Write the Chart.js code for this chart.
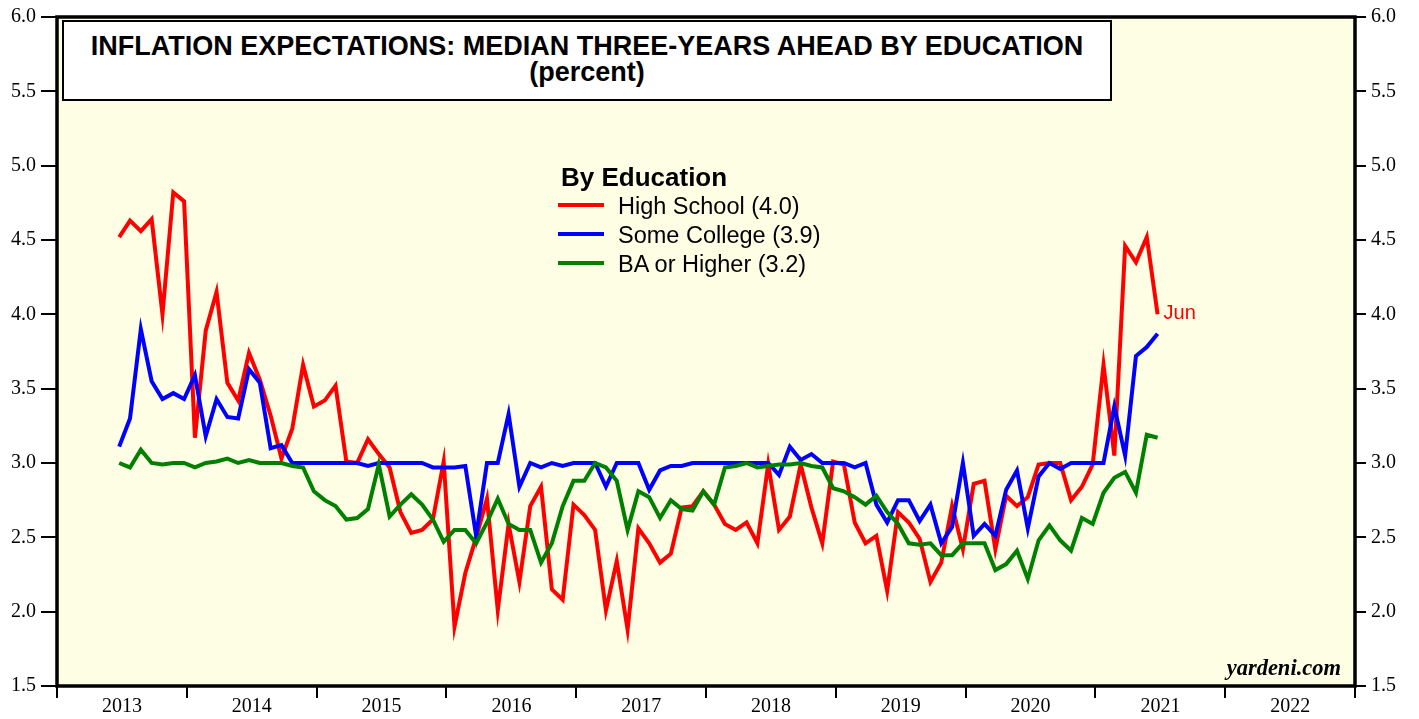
<!DOCTYPE html>
<html>
<head>
<meta charset="utf-8">
<script src="https://cdn.jsdelivr.net/npm/chart.js@4.4.1/dist/chart.umd.min.js"></script>
<style>
  body { margin: 0; background: #fff; }
  #wrap { position: relative; width: 1419px; height: 719px; overflow: hidden; }
  #c { position: absolute; left: 0; top: 0; }
  .ov { position: absolute; white-space: nowrap; }
  #titleBox {
    left: 62px; top: 20px; width: 1046px;
    border: 2px solid #000; background: #fff;
    text-align: center; font: bold 27px "Liberation Sans", Arial, sans-serif;
    line-height: 26px; padding-top: 11px; box-sizing: content-box; height: 66px;
  }
  #legTitle { left: 561px; top: 164px; font: bold 26px "Liberation Sans", Arial, sans-serif; line-height: 26px; }
  .legText { font: 23.5px "Liberation Sans", Arial, sans-serif; line-height: 24px; color: #000; }
  .legLine { height: 4px; width: 46px; }
  #brand { right: 78px; top: 657px; font: italic bold 22.5px "Liberation Serif", "Times New Roman", serif; line-height: 22px; }
  #lastLbl { font: 20px "Liberation Sans", Arial, sans-serif; line-height: 20px; color: #ff0000; }
</style>
</head>
<body>
<div id="wrap">
  <canvas id="c" width="1419" height="719"></canvas>
  <div id="titleBox" class="ov">INFLATION EXPECTATIONS: MEDIAN THREE-YEARS AHEAD BY EDUCATION<br>(percent)</div>
  <div id="legTitle" class="ov">By Education</div>
  <div id="brand" class="ov">yardeni.com</div>
  <div id="lastLbl" class="ov">Jun</div>
</div>
<script>
// Monthly data, Jun 2013 .. Jun 2021
const startYear = 2013;
const startMonth = 6;
const lastLabel = 'Jun';

const seriesLabels = ['High School (4.0)', 'Some College (3.9)', 'BA or Higher (3.2)'];
const seriesColors = ['#ff0000', '#0000ff', '#008000'];

const highSchool = [
  4.52, 4.63, 4.56, 4.64, 4.00, 4.82, 4.76, 3.17, 3.89, 4.15,
  3.54, 3.42, 3.74, 3.56, 3.32, 3.03, 3.23, 3.66, 3.38, 3.42,
  3.52, 3.01, 3.00, 3.16, 3.06, 2.97, 2.67, 2.53, 2.55, 2.62,
  3.01, 1.90, 2.26, 2.50, 2.76, 2.01, 2.59, 2.20, 2.71, 2.84,
  2.15, 2.08, 2.72, 2.65, 2.55, 2.01, 2.34, 1.88, 2.56, 2.46,
  2.33, 2.39, 2.70, 2.71, 2.81, 2.72, 2.59, 2.55, 2.60, 2.46,
  2.99, 2.55, 2.64, 2.99, 2.70, 2.46, 3.01, 2.99, 2.60, 2.46,
  2.51, 2.14, 2.67, 2.60, 2.49, 2.20, 2.33, 2.71, 2.42, 2.86,
  2.88, 2.42, 2.78, 2.71, 2.77, 2.99, 3.00, 3.00, 2.75, 2.84,
  2.99, 3.66, 3.05, 4.46, 4.35, 4.52, 4.00
];

const someCollege = [
  3.11, 3.30, 3.90, 3.55, 3.43, 3.47, 3.43, 3.59, 3.18, 3.43,
  3.31, 3.30, 3.63, 3.54, 3.10, 3.12, 3.00, 3.00, 3.00, 3.00,
  3.00, 3.00, 3.00, 2.98, 3.00, 3.00, 3.00, 3.00, 3.00, 2.97,
  2.97, 2.97, 2.98, 2.51, 3.00, 3.00, 3.33, 2.84, 3.00, 2.97,
  3.00, 2.98, 3.00, 3.00, 3.00, 2.84, 3.00, 3.00, 3.00, 2.82,
  2.95, 2.98, 2.98, 3.00, 3.00, 3.00, 3.00, 3.00, 3.00, 3.00,
  3.00, 2.92, 3.11, 3.02, 3.06, 3.00, 3.00, 3.00, 2.97, 3.00,
  2.72, 2.60, 2.75, 2.75, 2.61, 2.72, 2.46, 2.57, 3.00, 2.51,
  2.59, 2.51, 2.82, 2.95, 2.56, 2.91, 3.00, 2.96, 3.00, 3.00,
  3.00, 3.00, 3.38, 3.05, 3.72, 3.78, 3.87
];

const baOrHigher = [
  3.00, 2.97, 3.09, 3.00, 2.99, 3.00, 3.00, 2.97, 3.00, 3.01,
  3.03, 3.00, 3.02, 3.00, 3.00, 3.00, 2.98, 2.97, 2.81, 2.75,
  2.71, 2.62, 2.63, 2.69, 2.99, 2.64, 2.72, 2.79, 2.72, 2.62,
  2.47, 2.55, 2.55, 2.46, 2.60, 2.76, 2.59, 2.55, 2.55, 2.33,
  2.46, 2.71, 2.88, 2.88, 3.00, 2.97, 2.88, 2.55, 2.81, 2.77,
  2.63, 2.75, 2.69, 2.68, 2.81, 2.72, 2.97, 2.98, 3.00, 2.97,
  2.98, 2.99, 2.99, 3.00, 2.98, 2.97, 2.83, 2.81, 2.77, 2.72,
  2.78, 2.67, 2.59, 2.46, 2.45, 2.46, 2.38, 2.38, 2.46, 2.46,
  2.46, 2.28, 2.32, 2.41, 2.22, 2.48, 2.58, 2.48, 2.41, 2.63,
  2.59, 2.80, 2.90, 2.94, 2.80, 3.19, 3.17
];

const yearTicks = [2013, 2014, 2015, 2016, 2017, 2018, 2019, 2020, 2021, 2022, 2023];
const valueTicks = [1.5, 2.0, 2.5, 3.0, 3.5, 4.0, 4.5, 5.0, 5.5, 6.0];

// month i -> fractional year (plotted late in the month)
function toX(i) {
  return startYear + (startMonth - 1 + i + 0.75) / 12;
}
function toPoints(arr) {
  return arr.map((v, i) => ({ x: toX(i), y: v }));
}

// legend entries
const wrap = document.getElementById('wrap');
seriesLabels.forEach((lab, k) => {
  const line = document.createElement('div');
  line.className = 'ov legLine';
  line.style.left = '558px';
  line.style.top = (203 + k * 29) + 'px';
  line.style.background = seriesColors[k];
  wrap.appendChild(line);
  const txt = document.createElement('div');
  txt.className = 'ov legText';
  txt.style.left = '618px';
  txt.style.top = (194 + k * 29) + 'px';
  txt.textContent = lab;
  wrap.appendChild(txt);
});
document.getElementById('lastLbl').textContent = lastLabel;

const serif = { family: '"Liberation Serif", "Times New Roman", serif', size: 20 };

const framePlugin = {
  id: 'frame',
  beforeDraw(chart) {
    const { ctx, chartArea: a } = chart;
    ctx.save();
    ctx.fillStyle = '#ffffff';
    ctx.fillRect(0, 0, chart.width, chart.height);
    ctx.fillStyle = '#fefee4';
    ctx.fillRect(a.left, a.top, a.right - a.left, a.bottom - a.top);
    ctx.restore();
  },
  afterDraw(chart) {
    const { ctx, chartArea: a } = chart;
    ctx.save();
    ctx.strokeStyle = '#000';
    ctx.lineWidth = 3.5;
    ctx.strokeRect(a.left, a.top, a.right - a.left, a.bottom - a.top);
    ctx.restore();
    // place the "Jun" tag next to last high school point
    const n = highSchool.length - 1;
    const px = chart.scales.x.getPixelForValue(toX(n));
    const py = chart.scales.y.getPixelForValue(highSchool[n]);
    const lbl = document.getElementById('lastLbl');
    lbl.style.left = (px + 6) + 'px';
    lbl.style.top = (py - 12) + 'px';
  }
};

function yAxis(position, tickLen, width) {
  return {
    type: 'linear',
    position: position,
    min: 1.5,
    max: 6.0,
    afterBuildTicks: axis => { axis.ticks = valueTicks.map(v => ({ value: v })); },
    afterFit: scale => { scale.width = width; },
    ticks: {
      callback: v => Number(v).toFixed(1),
      font: serif,
      color: '#000',
      padding: 5
    },
    grid: { drawOnChartArea: false, drawTicks: true, tickLength: tickLen, color: '#000', lineWidth: 2 },
    border: { display: false }
  };
}

new Chart(document.getElementById('c'), {
  type: 'line',
  data: {
    datasets: [
      { label: seriesLabels[0], data: toPoints(highSchool), borderColor: seriesColors[0], order: 2 },
      { label: seriesLabels[1], data: toPoints(someCollege), borderColor: seriesColors[1], order: 1 },
      { label: seriesLabels[2], data: toPoints(baOrHigher), borderColor: seriesColors[2], order: 0 }
    ]
  },
  options: {
    responsive: false,
    animation: false,
    devicePixelRatio: 1,
    layout: { padding: { top: 13, left: 0, right: 0, bottom: 0 } },
    elements: {
      line: { borderWidth: 4, tension: 0, fill: false },
      point: { radius: 0, hoverRadius: 0 }
    },
    plugins: {
      legend: { display: false },
      tooltip: { enabled: false },
      title: { display: false }
    },
    scales: {
      x: {
        type: 'linear',
        position: 'bottom',
        min: 2013,
        max: 2023,
        afterBuildTicks: axis => { axis.ticks = yearTicks.map(v => ({ value: v })); },
        afterFit: scale => { scale.height = 33; },
        ticks: {
          autoSkip: false,
          maxRotation: 0,
          labelOffset: 65,
          padding: -3,
          font: serif,
          color: '#000',
          callback: v => (v < 2023 ? String(v) : '')
        },
        grid: { drawOnChartArea: false, drawTicks: true, tickLength: 12, color: '#000', lineWidth: 2 },
        border: { display: false }
      },
      y: yAxis('left', 16, 57),
      y2: yAxis('right', 11, 64)
    }
  },
  plugins: [framePlugin]
});
</script>
</body>
</html>
